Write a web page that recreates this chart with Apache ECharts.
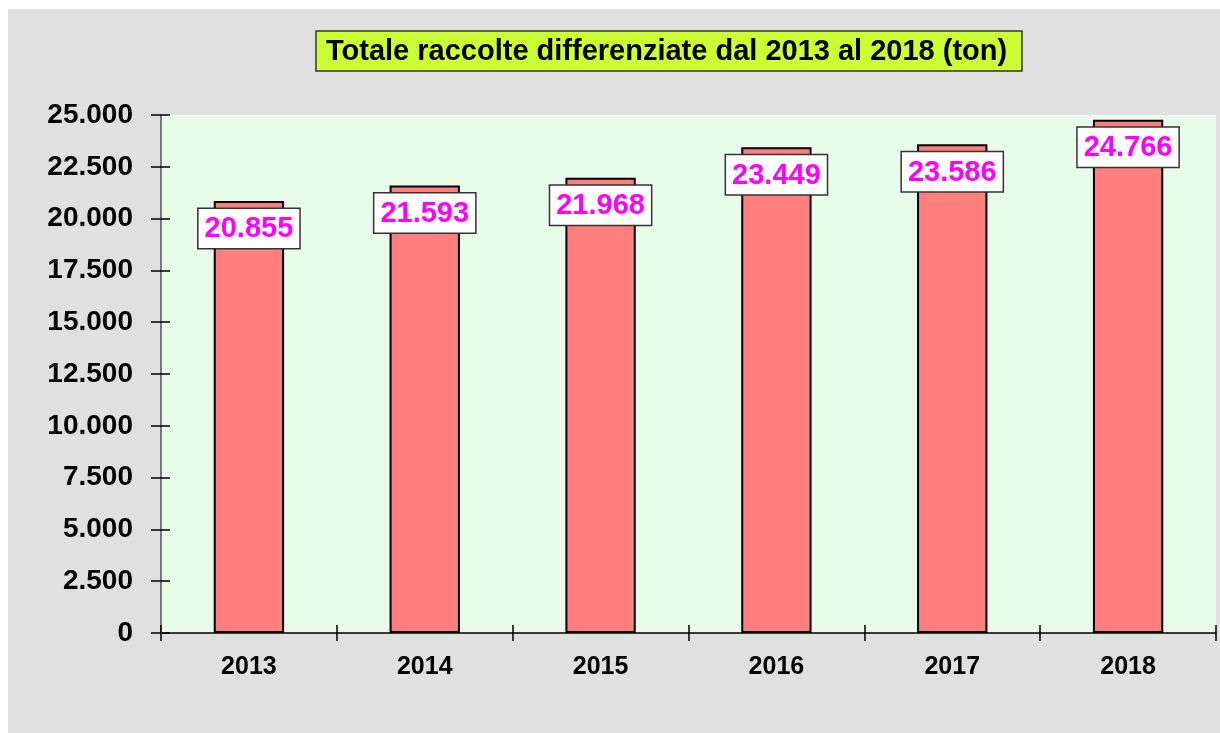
<!DOCTYPE html>
<html>
<head>
<meta charset="utf-8">
<script src="https://cdn.jsdelivr.net/npm/echarts@6/dist/echarts.min.js"></script>
<style>
  html, body { margin: 0; padding: 0; background: #ffffff; }
  .frame {
    position: absolute;
    left: 8px; top: 9px;
    width: 1212px; height: 724px;
    background: #e0e0e0;
  }
  #chart { position: absolute; left: 0; top: 0; width: 1220px; height: 733px; }
</style>
</head>
<body>
<div class="frame"></div>
<div id="chart"></div>
<script>
// dati
const anni = ['2013', '2014', '2015', '2016', '2017', '2018']
const totali = [20855, 21593, 21968, 23449, 23586, 24766]
const titolo = 'Totale raccolte differenziate dal 2013 al 2018 (ton)'

const fmt = (v) => String(v).replace(/\B(?=(\d{3})+(?!\d))/g, '.')

const chart = echarts.init(document.getElementById('chart'))
chart.setOption({
  backgroundColor: 'transparent',
  textStyle: { fontFamily: 'Liberation Sans, Arial, sans-serif' },
  title: {
    text: titolo,
    left: 316,
    top: 31,
    padding: [6, 15, 5, 10],
    backgroundColor: '#ccff33',
    borderColor: '#333',
    borderWidth: 1.5,
    textStyle: {
      fontFamily: 'Liberation Sans, Arial, sans-serif',
      fontSize: 29,
      fontWeight: 'bold',
      color: '#000'
    }
  },
  grid: { left: 161, right: 4, top: 115, bottom: 100 },
  xAxis: [
    {
      type: 'category',
      data: anni,
      axisLine: { lineStyle: { color: '#000', width: 1.5 } },
      axisTick: { show: true, length: 8, lineStyle: { color: '#000', width: 1.5 } },
      axisLabel: { color: '#000', fontSize: 25, fontWeight: 'bold', margin: 22 }
    },
    {
      type: 'category',
      data: anni,
      position: 'bottom',
      axisLine: { show: false },
      axisTick: { show: true, inside: true, length: 8, lineStyle: { color: '#000', width: 1.5 } },
      axisLabel: { show: false }
    }
  ],
  yAxis: [
    {
      type: 'value',
      min: 0,
      max: 25000,
      interval: 2500,
      axisLine: { show: true, lineStyle: { color: '#555', width: 1.5 } },
      axisTick: { show: true, length: 10, lineStyle: { color: '#000', width: 1.5 } },
      axisLabel: {
        color: '#000', fontSize: 28, fontWeight: 'bold', margin: 28,
        formatter: (v) => fmt(v)
      },
      splitLine: { show: false },
      splitArea: { show: true, areaStyle: { color: ['#e8fbe8'] } }
    },
    {
      type: 'value',
      min: 0,
      max: 25000,
      interval: 2500,
      position: 'left',
      axisLine: { show: false },
      axisTick: { show: true, inside: true, length: 9, lineStyle: { color: '#000', width: 1.5 } },
      axisLabel: { show: false },
      splitLine: { show: false }
    }
  ],
  series: [
    {
      type: 'bar',
      data: totali,
      barWidth: '40%',
      itemStyle: { color: '#ff7f7f', borderColor: '#000', borderWidth: 2 },
      label: {
        show: true,
        position: 'insideTop',
        distance: 8,
        formatter: (p) => fmt(p.value),
        color: '#ff00ff',
        fontSize: 29,
        fontWeight: 'bold',
        backgroundColor: '#fff',
        borderColor: '#333',
        borderWidth: 1.5,
        padding: [6, 6, 4, 6]
      }
    }
  ]
})
</script>
</body>
</html>
